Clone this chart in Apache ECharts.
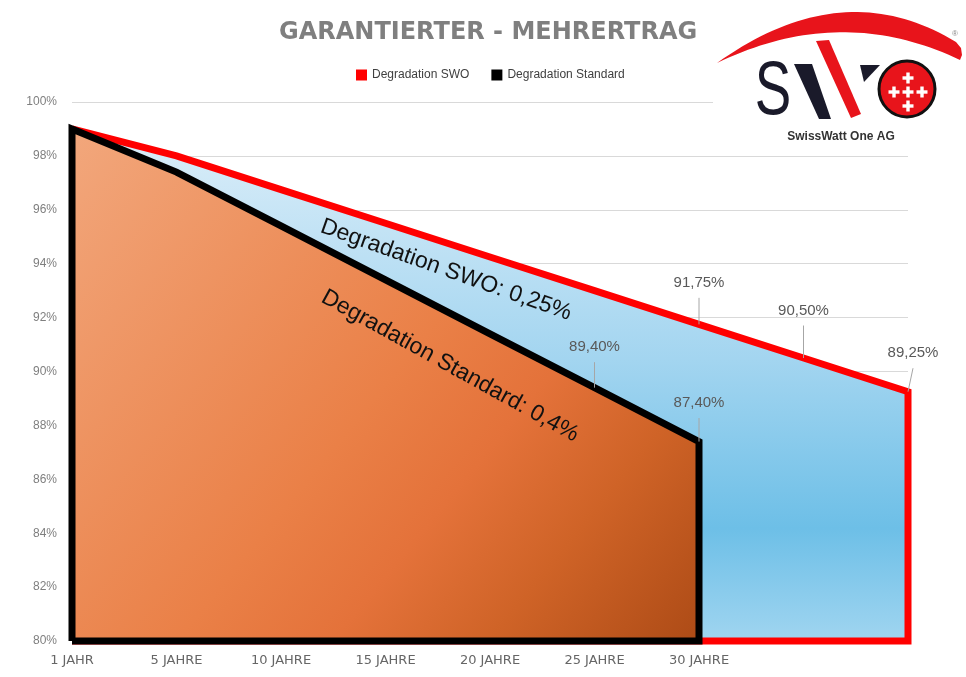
<!DOCTYPE html>
<html><head><meta charset="utf-8">
<script src="https://cdn.jsdelivr.net/npm/echarts@6/dist/echarts.min.js"></script>
<style>html,body{margin:0;padding:0;background:#fff}#c{width:966px;height:677px}</style>
</head><body><div id="c"></div>
<script>
// ---- data ----
const categories = ['1 JAHR', '5 JAHRE', '10 JAHRE', '15 JAHRE', '20 JAHRE', '25 JAHRE', '30 JAHRE', '', ''];
const swoValues = [99.0, 98.0, 96.75, 95.5, 94.25, 93.0, 91.75, 90.5, 89.25];
const standardValues = [99.0, 97.4, 95.4, 93.4, 91.4, 89.4, 87.4];
const swoLabelIdx = [6, 7, 8];
const standardLabelIdx = [5, 6];
const yMin = 80, yMax = 100, yStep = 2;
const seriesNames = ['Degradation SWO', 'Degradation Standard'];
const titleText = 'GARANTIERTER - MEHRERTRAG';
const noteSwo = 'Degradation SWO: 0,25%';
const noteStd = 'Degradation Standard: 0,4%';

// ---- styles ----
const labelGap = { swo: { 6: 34, 7: 40, 8: 31 }, std: { 5: 33, 6: 31 } };
const labelShift = { swo: { 8: 5 }, std: {} };

function fmt(v) { return v.toFixed(2).replace('.', ',') + '%'; }

function buildOutline(vals, labelIdx, key, closeLeft) {
  const last = vals.length - 1;
  const pts = closeLeft ? [[0, yMin]] : [];
  vals.forEach((v, i) => {
    if (labelIdx.includes(i)) {
      pts.push({
        value: [i, v],
        label: { show: true, position: 'top', distance: labelGap[key][i], offset: [labelShift[key][i] || 0, 0] }
      });
    } else {
      pts.push([i, v]);
    }
  });
  pts.push([last, yMin]);
  pts.push([0, yMin]);
  return pts;
}

// crescent (logo swoosh) as polygon from two quadratic curves
function quad(p0, c, p1, n) {
  const out = [];
  for (let k = 0; k <= n; k++) {
    const t = k / n, a = (1 - t) * (1 - t), b = 2 * (1 - t) * t, d = t * t;
    out.push([a * p0[0] + b * c[0] + d * p1[0], a * p0[1] + b * c[1] + d * p1[1]]);
  }
  return out;
}
const swoosh = quad([717, 63], [843, -27], [956, 42], 40)
  .concat([[961, 48], [962, 55]])
  .concat(quad([960, 60], [841, 3], [717, 63], 40));

const chart = echarts.init(document.getElementById('c'));
const lbl = { show: false, formatter: p => fmt(p.value[1]), color: '#595959', fontSize: 15, fontFamily: 'Liberation Sans' };
const lblLine = { show: true, lineStyle: { color: '#A6A6A6', width: 1 } };

const logo = [
  { type: 'rect', shape: { x: 713, y: 0, width: 253, height: 146 }, style: { fill: '#fff' }, z: 50 },
  { type: 'polygon', z: 51, shape: { points: swoosh }, style: { fill: '#E8141B' } },
  { type: 'text', x: 955, y: 34, z: 51, style: { text: '®', font: '8px "Liberation Sans"', fill: '#888', align: 'center', verticalAlign: 'middle' } },
  { type: 'text', x: 773, y: 93, scaleX: 0.72, z: 51, style: { text: 'S', font: '76px "Liberation Sans"', fill: '#1A1A2A', align: 'center', verticalAlign: 'middle' } },
  { type: 'polygon', z: 51, shape: { points: [[794, 64], [812, 64], [831, 119], [819, 119]] }, style: { fill: '#1A1A2A' } },
  { type: 'polygon', z: 52, shape: { points: [[816, 41], [829, 40], [861, 114], [851, 118]] }, style: { fill: '#E8141B' } },
  { type: 'polygon', z: 51, shape: { points: [[860, 65], [880, 65], [864, 82]] }, style: { fill: '#1A1A2A' } },
  { type: 'circle', z: 51, shape: { cx: 907, cy: 89, r: 28 }, style: { fill: '#E8141B', stroke: '#111', lineWidth: 3 } },
  { type: 'text', x: 841, y: 137, z: 51, style: { text: 'SwissWatt One AG', font: 'bold 12px "Liberation Sans"', fill: '#333', align: 'center', verticalAlign: 'middle' } }
];
[[908, 78], [894, 92], [908, 92], [922, 92], [908, 106]].forEach(([cx, cy]) => {
  logo.push({ type: 'rect', z: 53, shape: { x: cx - 5.5, y: cy - 1.7, width: 11, height: 3.4 }, style: { fill: '#fff' } });
  logo.push({ type: 'rect', z: 53, shape: { x: cx - 1.7, y: cy - 5.5, width: 3.4, height: 11 }, style: { fill: '#fff' } });
});

chart.setOption({
  animation: false,
  backgroundColor: '#ffffff',
  title: {
    text: titleText, left: 274, top: 16,
    textStyle: { fontFamily: 'DejaVu Sans', fontWeight: 'bold', fontSize: 24, color: '#7F7F7F' }
  },
  legend: {
    data: seriesNames, top: 64, left: 351, icon: 'rect', itemWidth: 11, itemHeight: 11, itemGap: 22,
    textStyle: { fontFamily: 'Liberation Sans', fontSize: 12, color: '#404040' }
  },
  grid: { left: 72, right: 58, top: 102, bottom: 36 },
  xAxis: {
    type: 'category', data: categories, boundaryGap: false,
    axisLine: { show: false }, axisTick: { show: false },
    axisLabel: { color: '#666666', fontFamily: 'DejaVu Sans', fontSize: 13, margin: 13 },
    splitLine: { show: false }
  },
  yAxis: {
    type: 'value', min: yMin, max: yMax, interval: yStep,
    axisLine: { show: false }, axisTick: { show: false },
    axisLabel: { formatter: '{value}%', color: '#7F7F7F', fontFamily: 'Liberation Sans', fontSize: 12, margin: 15 },
    splitLine: { lineStyle: { color: '#D9D9D9', width: 1 } }
  },
  series: [
    {
      name: seriesNames[0], type: 'line', color: '#FF0000', clip: false,
      symbol: 'circle', symbolSize: 0.01, silent: true,
      data: buildOutline(swoValues, swoLabelIdx, 'swo', false),
      lineStyle: { color: '#FF0000', width: 7, join: 'miter' },
      itemStyle: { color: '#FF0000' },
      areaStyle: {
        origin: 'start', opacity: 1,
        color: new echarts.graphic.LinearGradient(0, 0, 0, 1, [
          { offset: 0, color: '#DCEEF9' }, { offset: 0.45, color: '#A3D5F0' },
          { offset: 0.78, color: '#6DBFE7' }, { offset: 1, color: '#A0D5F0' }])
      },
      label: lbl, labelLine: lblLine, z: 2
    },
    {
      name: seriesNames[1], type: 'line', color: '#000000', clip: false,
      symbol: 'circle', symbolSize: 0.01, silent: true,
      data: buildOutline(standardValues, standardLabelIdx, 'std', true),
      lineStyle: { color: '#000000', width: 7, join: 'miter' },
      itemStyle: { color: '#000000' },
      areaStyle: {
        origin: 'start', opacity: 1,
        color: new echarts.graphic.LinearGradient(0, 0, 1, 1, [
          { offset: 0, color: '#F2A77C' }, { offset: 0.5, color: '#EA8047' },
          { offset: 0.65, color: '#E4723A' }, { offset: 0.8, color: '#CF6327' },
          { offset: 1, color: '#AD4B16' }])
      },
      label: lbl, labelLine: lblLine, z: 3
    }
  ],
  graphic: [
    { type: 'text', x: 446, y: 270, rotation: -19.5 * Math.PI / 180, z: 100,
      style: { text: noteSwo, font: '23px "Liberation Sans"', fill: '#111', align: 'center', verticalAlign: 'middle' } },
    { type: 'text', x: 450, y: 366, rotation: -29 * Math.PI / 180, z: 100,
      style: { text: noteStd, font: '23px "Liberation Sans"', fill: '#111', align: 'center', verticalAlign: 'middle' } }
  ].concat(logo)
});
</script></body></html>
